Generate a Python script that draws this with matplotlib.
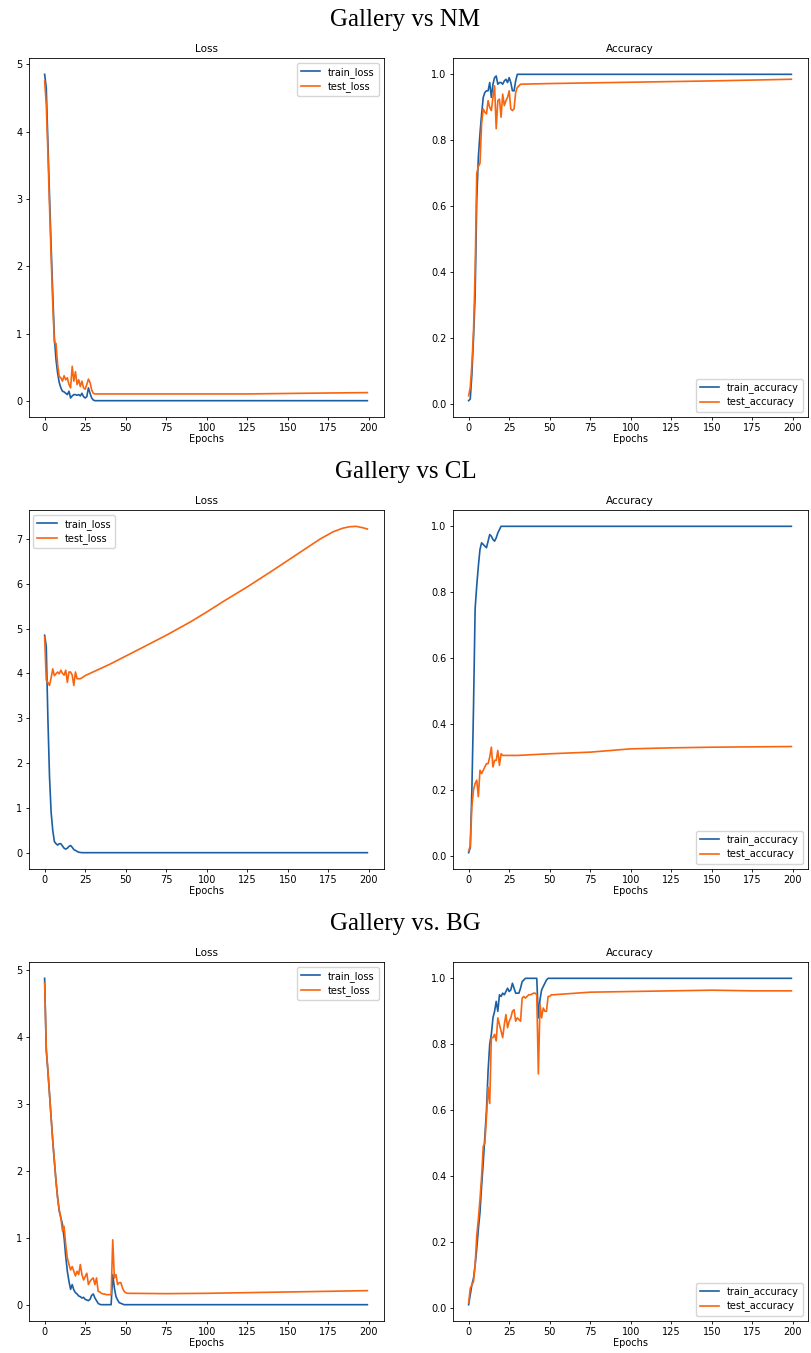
import matplotlib
matplotlib.use("Agg")
import matplotlib.pyplot as plt

# ---- Gallery vs NM ----
nm_train_loss_ep = list(range(0, 33)) + [60, 120, 199]
nm_train_loss = [4.85, 4.65, 3.85, 3.05, 2.3, 1.6, 0.95, 0.62, 0.42, 0.28, 0.2, 0.15, 0.14, 0.12, 0.1, 0.15,
                 0.05, 0.08, 0.1, 0.1, 0.09, 0.1, 0.08, 0.12, 0.07, 0.05, 0.07, 0.2, 0.12, 0.05, 0.02, 0.01,
                 0.01, 0.01, 0.01, 0.01]
nm_test_loss_ep = list(range(0, 33)) + [75, 125, 160, 199]
nm_test_loss = [4.75, 4.4, 3.7, 2.9, 2.15, 1.45, 0.87, 0.86, 0.55, 0.37, 0.35, 0.3, 0.38, 0.32, 0.35, 0.25,
                0.2, 0.52, 0.3, 0.44, 0.25, 0.32, 0.22, 0.3, 0.2, 0.18, 0.25, 0.33, 0.28, 0.17, 0.12, 0.11,
                0.11, 0.11, 0.11, 0.12, 0.13]
nm_train_acc_ep = list(range(0, 32)) + [199]
nm_train_acc = [0.01, 0.015, 0.09, 0.2, 0.33, 0.62, 0.75, 0.82, 0.88, 0.93, 0.945, 0.95, 0.95, 0.975, 0.93, 0.97,
                0.99, 0.995, 0.97, 0.975, 0.975, 0.97, 0.98, 0.985, 0.975, 0.99, 0.975, 0.95, 0.95, 0.98,
                1.0, 1.0, 1.0]
nm_test_acc_ep = list(range(0, 33)) + [50, 100, 150, 199]
nm_test_acc = [0.025, 0.05, 0.12, 0.22, 0.4, 0.7, 0.72, 0.73, 0.85, 0.895, 0.885, 0.88, 0.92, 0.9, 0.89, 0.93,
               0.965, 0.835, 0.92, 0.925, 0.87, 0.94, 0.905, 0.92, 0.93, 0.95, 0.895, 0.89, 0.895, 0.945,
               0.96, 0.965, 0.97, 0.972, 0.976, 0.98, 0.985]

# ---- Gallery vs CL ----
cl_train_loss_ep = list(range(0, 25)) + [199]
cl_train_loss = [4.85, 4.6, 3.0, 1.7, 0.9, 0.5, 0.25, 0.2, 0.17, 0.2, 0.2, 0.15, 0.1, 0.08, 0.1, 0.14, 0.16,
                 0.12, 0.07, 0.05, 0.03, 0.01, 0.005, 0.0, 0.0, 0.0]
cl_test_loss_ep = list(range(0, 24)) + [25, 40, 60, 75, 90, 100, 110, 125, 140, 150, 160, 170, 178, 184,
                                        188, 192, 196, 199]
cl_test_loss = [4.81, 3.85, 3.8, 3.73, 3.9, 4.1, 3.95, 3.99, 4.03, 3.99, 4.07, 4.0, 3.96, 4.07, 3.8, 4.03,
                4.03, 3.96, 3.73, 4.03, 3.88, 3.88, 3.88, 3.9, 3.95, 4.2, 4.57, 4.85, 5.15, 5.37, 5.6, 5.93,
                6.28, 6.52, 6.76, 7.0, 7.16, 7.24, 7.27, 7.28, 7.25, 7.22]
cl_train_acc_ep = list(range(0, 21)) + [199]
cl_train_acc = [0.01, 0.025, 0.2, 0.45, 0.75, 0.82, 0.88, 0.93, 0.95, 0.945, 0.94, 0.935, 0.955, 0.975, 0.97,
                0.96, 0.955, 0.965, 0.98, 0.99, 1.0, 1.0]
cl_test_acc_ep = list(range(0, 22)) + [30, 50, 75, 100, 125, 150, 175, 199]
cl_test_acc = [0.015, 0.03, 0.15, 0.2, 0.22, 0.23, 0.18, 0.26, 0.25, 0.26, 0.27, 0.28, 0.28, 0.3, 0.33, 0.27,
               0.29, 0.29, 0.32, 0.275, 0.31, 0.305, 0.305, 0.31, 0.315, 0.325, 0.328, 0.33, 0.331, 0.332]

# ---- Gallery vs. BG ----
bg_train_loss_ep = list(range(0, 51)) + [199]
bg_train_loss = [4.88, 3.8, 3.5, 3.15, 2.8, 2.45, 2.15, 1.85, 1.6, 1.4, 1.3, 1.2, 1.0, 0.72, 0.5, 0.35, 0.23,
                 0.3, 0.22, 0.18, 0.16, 0.13, 0.12, 0.1, 0.11, 0.08, 0.07, 0.06, 0.08, 0.14, 0.16, 0.1, 0.06,
                 0.02, 0.005, 0.0, 0.0, 0.0, 0.0, 0.0, 0.0, 0.0, 0.45, 0.25, 0.12, 0.07, 0.03, 0.02, 0.01,
                 0.0, 0.0, 0.0]
bg_test_loss_ep = list(range(0, 53)) + [75, 100, 125, 150, 175, 199]
bg_test_loss = [4.81, 3.85, 3.5, 3.15, 2.8, 2.45, 2.15, 1.85, 1.6, 1.42, 1.3, 1.1, 1.17, 0.9, 0.7, 0.6, 0.52,
                0.57, 0.5, 0.43, 0.5, 0.45, 0.6, 0.45, 0.37, 0.42, 0.47, 0.3, 0.35, 0.38, 0.4, 0.3, 0.4,
                0.2, 0.19, 0.17, 0.16, 0.16, 0.15, 0.15, 0.15, 0.15, 0.97, 0.4, 0.45, 0.3, 0.33, 0.33, 0.25,
                0.2, 0.18, 0.17, 0.17, 0.165, 0.17, 0.18, 0.19, 0.2, 0.21]
bg_train_acc_ep = list(range(0, 50)) + [199]
bg_train_acc = [0.01, 0.04, 0.07, 0.09, 0.13, 0.18, 0.24, 0.29, 0.37, 0.44, 0.52, 0.6, 0.72, 0.8, 0.83, 0.88,
                0.9, 0.93, 0.9, 0.95, 0.945, 0.955, 0.95, 0.96, 0.97, 0.96, 0.965, 0.985, 0.97, 0.955, 0.955,
                0.955, 0.97, 0.99, 0.995, 1.0, 1.0, 1.0, 1.0, 1.0, 1.0, 1.0, 1.0, 0.88, 0.935, 0.965, 0.975,
                0.985, 0.995, 1.0, 1.0]
bg_test_acc_ep = list(range(0, 53)) + [75, 100, 125, 150, 175, 199]
bg_test_acc = [0.015, 0.06, 0.07, 0.08, 0.13, 0.22, 0.27, 0.33, 0.4, 0.49, 0.5, 0.58, 0.67, 0.62, 0.82, 0.82,
               0.83, 0.81, 0.88, 0.86, 0.84, 0.82, 0.86, 0.89, 0.85, 0.87, 0.88, 0.9, 0.905, 0.87, 0.88,
               0.875, 0.87, 0.94, 0.945, 0.94, 0.945, 0.95, 0.95, 0.952, 0.955, 0.955, 0.95, 0.71, 0.92,
               0.88, 0.91, 0.9, 0.9, 0.945, 0.945, 0.95, 0.95, 0.958, 0.96, 0.962, 0.964, 0.962, 0.962]

sections = ["Gallery vs NM", "Gallery vs CL", "Gallery vs. BG"]
loss_legend_loc = ["upper right", "upper left", "upper right"]

BLUE = "#1d5fa3"
ORANGE = "#f8650f"
FS = 7.0

plt.rcParams['font.family'] = ['DejaVu Sans']
fig = plt.figure(figsize=(8.11, 13.53), dpi=100)

W, H = 811.0, 1353.0
row_tops = [58, 510, 962]
ax_h = 359
ax_w = 355
lefts = [28.5, 452.5]


def style(ax):
    ax.tick_params(labelsize=FS, length=2.4, width=0.6, pad=2)
    for s in ax.spines.values():
        s.set_linewidth(0.6)
    ax.set_xticks([0, 25, 50, 75, 100, 125, 150, 175, 200])
    ax.set_xlabel("Epochs", fontsize=FS, labelpad=1)


rows = [
    (nm_train_loss_ep, nm_train_loss, nm_test_loss_ep, nm_test_loss,
     nm_train_acc_ep, nm_train_acc, nm_test_acc_ep, nm_test_acc),
    (cl_train_loss_ep, cl_train_loss, cl_test_loss_ep, cl_test_loss,
     cl_train_acc_ep, cl_train_acc, cl_test_acc_ep, cl_test_acc),
    (bg_train_loss_ep, bg_train_loss, bg_test_loss_ep, bg_test_loss,
     bg_train_acc_ep, bg_train_acc, bg_test_acc_ep, bg_test_acc),
]

for i, r in enumerate(rows):
    top = row_tops[i]
    bottom = 1 - (top + ax_h) / H
    fig.text(0.5, 1 - (top - 38) / H, sections[i], ha='center', va='center',
             family='Liberation Serif', fontsize=18)

    ax1 = fig.add_axes([lefts[0] / W, bottom, ax_w / W, ax_h / H])
    ax1.plot(r[0], r[1], color=BLUE, lw=1.2, label="train_loss")
    ax1.plot(r[2], r[3], color=ORANGE, lw=1.2, label="test_loss")
    ax1.set_title("Loss", fontsize=FS + 0.5, pad=4)
    style(ax1)
    ax1.legend(loc=loss_legend_loc[i], fontsize=FS, handlelength=2.0, borderpad=0.4,
               labelspacing=0.4, framealpha=0.8)

    ax2 = fig.add_axes([lefts[1] / W, bottom, ax_w / W, ax_h / H])
    ax2.plot(r[4], r[5], color=BLUE, lw=1.2, label="train_accuracy")
    ax2.plot(r[6], r[7], color=ORANGE, lw=1.2, label="test_accuracy")
    ax2.set_title("Accuracy", fontsize=FS + 0.5, pad=4)
    style(ax2)
    ax2.legend(loc="lower right", fontsize=FS, handlelength=2.0, borderpad=0.4,
               labelspacing=0.4, framealpha=0.8)

fig.savefig("out.png", dpi=100)
